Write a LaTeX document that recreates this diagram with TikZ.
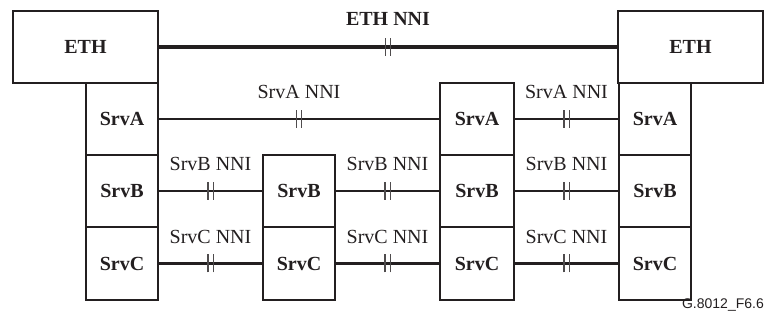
\documentclass[tikz,border=0pt]{standalone}
\usepackage{fontspec}
\setmainfont{Liberation Serif}
\newfontfamily\footfont{Liberation Sans}
\usetikzlibrary{decorations.markings}
\definecolor{ink}{HTML}{231F20}
\begin{document}
\begin{tikzpicture}[x=1pt,y=-1pt,
  box/.style={draw=ink, line width=2pt, minimum width=72pt, minimum height=72pt, inner sep=0pt,
    font=\fontsize{20}{24}\selectfont\bfseries, text=ink},
  ethbox/.style={box, minimum width=145pt},
  tickline/.style={draw=ink!80, line width=1.2pt},
  nni/.style={postaction={decorate}, decoration={markings, mark=at position 0.5 with
    {\draw[tickline] (-2.6pt,-9pt) -- (-2.6pt,9pt) (2.6pt,-9pt) -- (2.6pt,9pt);}}},
  ethconn/.style={draw=ink, line width=3.4pt, nni},
  aconn/.style={draw=ink, line width=2pt, nni},
  bconn/.style={draw=ink, line width=2.8pt, nni},
  lbl/.style={font=\fontsize{20}{24}\selectfont, text=ink, yshift=27pt, inner sep=0pt},
  elbl/.style={font=\fontsize{20}{24}\selectfont\bfseries, text=ink, yshift=28pt, inner sep=0pt}
]
\useasboundingbox (0,0) rectangle (764,323);
% boxes
\node[ethbox] (E1) at (85.5,47) {ETH};
\node[ethbox] (E4) at (690.5,47) {ETH};
\node[box] (A1) at (122,119) {SrvA};
\node[box] (B1) at (122,191) {SrvB};
\node[box, minimum height=73pt] (C1) at (122,263.5) {SrvC};
\node[box] (B2) at (299,191) {SrvB};
\node[box, minimum height=73pt] (C2) at (299,263.5) {SrvC};
\node[box, minimum width=74pt] (A3) at (477,119) {SrvA};
\node[box, minimum width=74pt] (B3) at (477,191) {SrvB};
\node[box, minimum width=74pt, minimum height=73pt] (C3) at (477,263.5) {SrvC};
\node[box] (A4) at (655,119) {SrvA};
\node[box] (B4) at (655,191) {SrvB};
\node[box, minimum height=73pt] (C4) at (655,263.5) {SrvC};
% connectors
\draw[ethconn] (E1) -- node[elbl] {ETH NNI} (E4);
\draw[aconn] (A1) -- node[lbl] {SrvA NNI} (A3);
\draw[aconn] (A3) -- node[lbl] {SrvA NNI} (A4);
\draw[bconn] (B1) -- node[lbl] {SrvB NNI} (B2);
\draw[bconn] (B2) -- node[lbl] {SrvB NNI} (B3);
\draw[bconn] (B3) -- node[lbl] {SrvB NNI} (B4);
\draw[bconn] (C1) -- node[lbl] {SrvC NNI} (C2);
\draw[bconn] (C2) -- node[lbl] {SrvC NNI} (C3);
\draw[bconn] (C3) -- node[lbl] {SrvC NNI} (C4);
% figure id
\node[font=\footfont\fontsize{14}{16}\selectfont, text=ink, anchor=east, inner sep=0pt] (fid) at (764,305) {G.8012\_F6.6};
\end{tikzpicture}
\end{document}
